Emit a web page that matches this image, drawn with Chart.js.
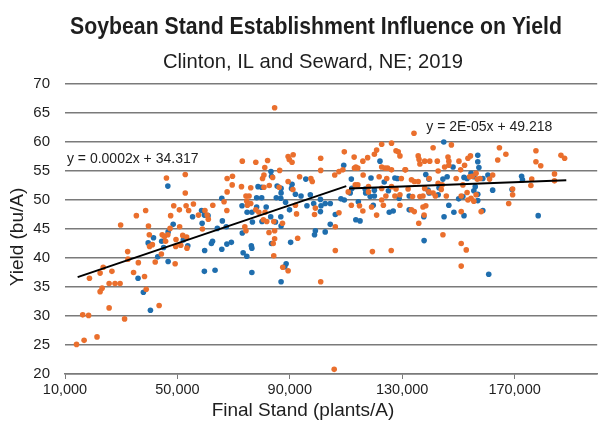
<!DOCTYPE html>
<html><head><meta charset="utf-8">
<script src="https://cdn.jsdelivr.net/npm/chart.js@4.4.0/dist/chart.umd.min.js"></script>
<style>html,body{margin:0;padding:0;background:#fff;}#wrap{width:600px;height:427px;}</style>
</head><body><div id="wrap"><canvas id="c" width="600" height="427"></canvas></div>
<script>
const titleText = 'Soybean Stand Establishment Influence on Yield';
const subtitleText = 'Clinton, IL and Seward, NE; 2019';
const xAxisTitle = 'Final Stand (plants/A)';
const yAxisTitle = 'Yield (bu/A)';
const xTicks = [10000, 50000, 90000, 130000, 170000];
const yTicks = [20, 25, 30, 35, 40, 45, 50, 55, 60, 65, 70];

const orangeX = [14100,16800,21400,16300,18400,25700,31200,18700,22500,23200,22500,23600,25700,26700,27800,29600,29800,32300,32400,34400,36100,38300,38900,39700,40000,40100,41100,42100,43500,44300,44600,45400,45800,46600,47400,49200,49400,49500,50800,51200,51900,53300,53400,58900,46100,52800,52800,48700,47600,50700,53100,54000,55700,57500,59800,60600,61000,62600,35400,38700,
84600,73100,77900,82100,89400,89800,91200,90800,101000,109400,81100,86400,83900,80800,80300,67700,69600,69500,76100,80800,82700,86200,93500,97500,98000,101000,106000,107500,108900,66600,67600,74400,75500,74700,76100,74900,77900,79000,81200,80600,81800,84300,87400,74000,74400,84600,84600,84100,84300,92000,92400,98800,99100,107500,110800,106200,72800,87500,89400,92800,106200,101000,105800,82600,67700,89400,91100,
134200,122700,126200,120900,120100,127800,128600,129200,112900,113500,113000,114200,116000,117700,122700,123900,124800,124500,126200,131200,135700,136000,136300,138000,139800,142500,141000,146300,146600,146600,147500,150200,152200,153400,154300,145100,116100,121800,133300,126200,127800,129700,139600,142800,144200,149200,154000,151600,113300,114200,118000,118000,122700,124200,127400,129200,132100,133700,136300,137400,141000,141800,145700,151000,153100,153400,111900,114800,116000,119100,120900,122700,123300,129200,134300,138400,135900,144500,151000,152800,119400,126100,151000,131000,134300,135700,142800,138000,139500,143900,154500,137400,137800,133300,151000,150800,
164600,166900,164000,177600,177600,179300,186500,187800,184200,184200,176100,175800,169300,169300,167900,162200,161100,157700,156300,154900,156700,156300,155500,158100];
const orangeY = [25.1,25.8,26.4,30.2,30.1,31.4,29.5,36.5,34.2,34.8,37.4,38.4,35.6,37.7,35.6,35.6,45.7,41.1,39.8,37.5,39.2,36.8,34.6,45.5,44.0,42.0,42.3,39.3,31.8,40.7,44.0,43.7,42.9,44.0,45.1,39.0,42.0,43.2,45.4,42.2,43.9,43.6,41.7,45.0,53.8,54.4,51.2,49.0,47.3,48.3,49.0,48.2,49.3,47.4,48.2,47.4,46.7,49.1,47.3,48.2,
65.9,56.7,56.5,56.8,57.5,57.0,57.8,56.5,57.2,58.3,55.6,55.1,53.9,54.3,53.7,53.7,54.1,52.6,52.1,52.2,52.5,52.2,54.0,53.7,53.2,55.1,54.3,54.9,55.2,49.7,48.2,50.7,50.7,49.8,49.4,49.1,48.3,47.9,47.9,46.6,46.3,46.3,46.0,45.4,44.7,44.7,43.3,42.5,40.4,49.1,47.6,47.5,48.6,47.8,51.4,41.3,52.3,38.4,37.8,43.4,45.4,35.9,20.8,44.4,51.4,53.2,51.8,
61.5,59.6,59.8,58.6,57.9,58.5,58.3,57.6,57.4,55.7,55.5,55.5,56.7,57.3,55.7,55.5,55.5,53.7,55.2,55.2,57.6,57.0,56.2,56.7,56.7,56.7,59.0,57.4,56.7,56.0,59.5,56.7,56.0,57.2,57.6,55.7,54.3,54.0,53.5,52.3,51.9,53.7,53.7,52.9,52.6,53.7,54.0,52.6,52.6,52.6,52.3,51.4,52.0,50.7,50.7,50.9,51.9,50.6,50.6,50.7,51.2,50.7,50.7,50.7,51.3,50.0,49.1,49.0,48.1,48.8,47.4,50.0,49.1,49.1,48.0,49.0,46.0,44.0,42.5,41.4,41.1,41.3,38.6,55.2,53.2,53.2,55.0,52.0,51.4,51.8,50.3,48.8,47.4,48.3,48.0,55.2,
59.0,57.9,56.9,58.5,56.6,55.9,57.7,57.2,54.5,53.3,53.6,52.5,51.9,50.9,49.4,54.3,53.6,53.7,54.6,54.1,53.6,50.9,49.8,48.0];

const blueX = [36000,37900,39600,41500,40400,43000,44400,45100,46700,46700,
48500,52100,53700,59700,62100,62500,59600,63400,58800,64200,
46600,58600,55400,59600,60900,65800,66000,65800,
83300,95700,78700,85500,86900,86900,90800,90600,92000,94000,
78200,80000,73000,74800,76500,78200,81600,85200,86800,88500,
89900,86800,83200,80100,84900,67400,73100,76700,97300,98500,
96100,100900,101100,100900,102600,104400,106200,108200,109400,99100,
98800,102600,104400,67600,69200,76300,76500,73400,74700,90300,
109200,76500,83500,86900,88700,88200,86900,83500,80000,
144800,122100,148100,111900,118900,123600,127400,138400,139500,146000,
152000,153100,154500,112100,111500,116800,117000,120100,120100,118600,
125100,128900,132500,139200,139600,142800,114400,119700,125400,126800,
132500,113500,115000,144900,148400,152000,137800,128300,144500,143100,
150100,151600,146600,137700,
156900,156900,157300,155500,158700,160500,172500,172800,162200,169100,
156000,155500,156900,156900,158700,178400,160800];
const blueY = [36.5,34.1,42.6,43.5,31.0,40.2,42.9,41.8,39.4,44.5,
45.8,43.1,42.1,41.3,42.5,42.9,37.7,37.9,46.0,45.1,
52.4,48.2,47.1,47.4,47.3,50.3,46.4,41.5,
54.9,53.6,52.3,52.4,52.0,51.2,52.7,52.0,51.0,50.7,
50.4,50.4,49.0,47.9,47.9,48.8,48.8,50.4,50.3,49.6,
48.3,47.1,47.1,46.3,46.2,45.4,44.3,46.2,50.9,49.4,
49.0,50.1,49.0,48.0,49.4,49.4,47.5,50.2,50.0,44.7,
44.0,44.5,45.8,42.4,42.7,42.1,41.7,40.9,40.3,42.7,
56.0,37.5,42.5,45.5,39.0,38.5,35.9,54.1,52.2,
60.0,56.7,55.7,53.6,53.8,53.1,53.8,54.4,53.6,54.0,
53.9,53.7,54.6,52.0,51.2,51.9,51.2,51.7,50.7,50.6,
51.6,50.3,50.7,51.7,51.2,50.9,49.7,49.1,47.9,48.1,
48.3,46.6,46.4,47.1,47.9,47.3,43.0,53.7,53.6,52.1,
50.2,50.6,49.1,47.1,
57.7,56.6,55.6,54.0,53.7,54.3,54.1,53.5,51.7,51.8,
52.3,51.6,51.0,49.9,48.2,47.3,37.2];

const trend1X = [14500, 110100];
const trend1Y = [36.7, 52.4];
const trend2X = [111100, 188400];
const trend2Y = [52.0, 53.4];
const eqLabels = ['y = 0.0002x + 34.317', 'y = 2E-05x + 49.218'];
const eqX = [34100, 161000];
const eqY = [57.1, 62.6];

const toPts = (xs, ys) => xs.map((x, i) => ({x: x, y: ys[i]}));
const SANS = '"Liberation Sans", Arial, Helvetica, sans-serif';
const TEXT = '#1e1e1e';

function fitText(ctx, text, font, cx, baseline, targetW) {
  ctx.font = font;
  const w = ctx.measureText(text).width;
  ctx.save();
  ctx.translate(cx, baseline);
  ctx.scale(targetW / w, 1);
  ctx.textAlign = 'center';
  ctx.textBaseline = 'alphabetic';
  ctx.fillText(text, 0, 0);
  ctx.restore();
}

const textPlugin = {
  id: 'texts',
  afterDraw(chart) {
    const ctx = chart.ctx;
    const xs = chart.scales.x, ys = chart.scales.y;
    ctx.save();
    ctx.fillStyle = TEXT;
    fitText(ctx, titleText, 'bold 24px "Liberation Sans Narrow", ' + SANS, 316, 34, 492);
    fitText(ctx, subtitleText, '21px "Liberation Sans Narrow", ' + SANS, 313, 68, 300);
    ctx.font = '19px ' + SANS;
    ctx.textAlign = 'center';
    ctx.textBaseline = 'middle';
    ctx.fillText(xAxisTitle, 303, 411);
    ctx.save();
    ctx.translate(18, 237);
    ctx.rotate(-Math.PI / 2);
    ctx.fillText(yAxisTitle, 0, 0);
    ctx.restore();
    ctx.font = '14px ' + SANS;
    eqLabels.forEach((t, i) => {
      ctx.fillText(t, xs.getPixelForValue(eqX[i]), ys.getPixelForValue(eqY[i]));
    });
    ctx.restore();
  }
};

new Chart(document.getElementById('c'), {
  type: 'scatter',
  data: {
    datasets: [
      { label: 'trend1', data: toPts(trend1X, trend1Y), showLine: true, borderColor: '#000', borderWidth: 2, pointRadius: 0, pointHoverRadius: 0, fill: false },
      { label: 'trend2', data: toPts(trend2X, trend2Y), showLine: true, borderColor: '#000', borderWidth: 2, pointRadius: 0, pointHoverRadius: 0, fill: false },
      { label: 'Seward, NE', data: toPts(orangeX, orangeY), backgroundColor: '#EA6F2D', borderWidth: 0, pointRadius: 2.8, pointHoverRadius: 2.8 },
      { label: 'Clinton, IL', data: toPts(blueX, blueY), backgroundColor: '#1F6EAE', borderWidth: 0, pointRadius: 2.8, pointHoverRadius: 2.8 }
    ]
  },
  options: {
    responsive: false,
    animation: false,
    devicePixelRatio: 1,
    layout: { padding: { top: 84, left: 0, right: 0, bottom: 0 } },
    plugins: { legend: { display: false }, tooltip: { enabled: false }, title: { display: false } },
    scales: {
      x: {
        type: 'linear', min: 10000, max: 199400,
        afterBuildTicks: (axis) => { axis.ticks = xTicks.map(v => ({ value: v })); },
        afterFit: (s) => { s.height = 53; },
        grid: { drawOnChartArea: false, drawTicks: true, tickLength: 5, color: '#7a7a7a', lineWidth: 1 },
        border: { display: true, color: '#7a7a7a', width: 1.5 },
        ticks: { padding: 2, autoSkip: false, maxRotation: 0, color: TEXT, font: { size: 14.5, family: SANS },
                 callback: (v) => Number(v).toLocaleString('en-US') }
      },
      y: {
        type: 'linear', min: 20, max: 70,
        afterBuildTicks: (axis) => { axis.ticks = yTicks.map(v => ({ value: v })); },
        afterFit: (s) => { s.width = 65; },
        grid: { color: '#7a7a7a', lineWidth: 1.5, drawTicks: false },
        border: { display: false },
        ticks: { padding: 15, color: TEXT, font: { size: 15, family: SANS } }
      }
    }
  },
  plugins: [textPlugin]
});
</script>
</body></html>
